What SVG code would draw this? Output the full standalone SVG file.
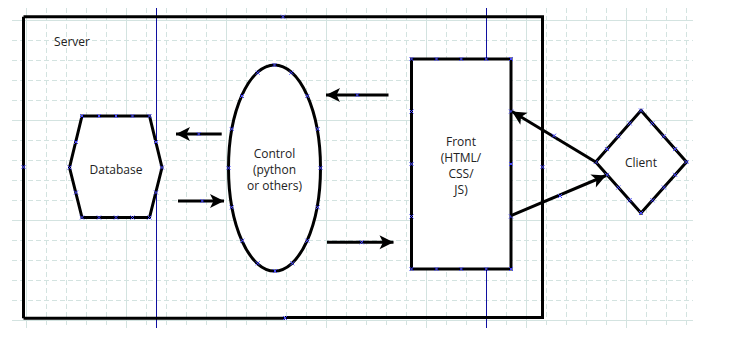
<svg xmlns="http://www.w3.org/2000/svg" xmlns:xlink="http://www.w3.org/1999/xlink" width="738" height="348" viewBox="0 0 738 348">
  <defs>
    <style>
      .grid-minor { stroke: #d3e3e0; stroke-width: 1; stroke-dasharray: 5 3; fill: none; }
      .grid-major { stroke: #d3e3e0; stroke-width: 1; fill: none; }
      .guide { stroke: #1010a0; stroke-width: 1; fill: none; }
      .shape { fill: #ffffff; stroke: #000000; stroke-width: 3; }
      .frame { fill: none; stroke: #000000; stroke-width: 3; }
      .conn { stroke: #000000; stroke-width: 3; fill: none; marker-end: url(#head); }
      .label { font-family: "Open Sans", "Noto Sans", "DejaVu Sans", sans-serif; font-size: 12px; fill: #222222; text-anchor: middle; }
      .pt { stroke: #4848ff; stroke-width: 1; fill: none; }
    </style>
    <marker id="head" markerUnits="userSpaceOnUse" markerWidth="17" markerHeight="16" refX="15" refY="7.5" orient="auto" viewBox="0 0 17 15">
      <path d="M15,7.5 L1,0.5 L4.5,7.5 L1,14.5 Z" fill="#000000"/>
    </marker>
    <path id="x" class="pt" d="M-2,-2 L2,2 M-2,2 L2,-2"/>
  </defs>

  <rect width="738" height="348" fill="#ffffff"/>

  <!-- background grid -->
  <g id="grid">
    <path class="grid-minor" d="M12,40.5 H693 M12,60.5 H693 M12,80.5 H693 M12,100.5 H693 M12,140.5 H693 M12,160.5 H693 M12,180.5 H693 M12,200.5 H693 M12,240.5 H693 M12,260.5 H693 M12,280.5 H693 M12,300.5 H693"/>
    <path class="grid-minor" d="M46.5,8 V328 M66.5,8 V328 M86.5,8 V328 M106.5,8 V328 M146.5,8 V328 M166.5,8 V328 M186.5,8 V328 M206.5,8 V328 M246.5,8 V328 M266.5,8 V328 M286.5,8 V328 M306.5,8 V328 M346.5,8 V328 M366.5,8 V328 M386.5,8 V328 M406.5,8 V328 M446.5,8 V328 M466.5,8 V328 M486.5,8 V328 M506.5,8 V328 M546.5,8 V328 M566.5,8 V328 M586.5,8 V328 M606.5,8 V328 M646.5,8 V328 M666.5,8 V328 M686.5,8 V328"/>
    <path class="grid-major" d="M12,20.5 H693 M12,120.5 H693 M12,220.5 H693 M12,320.5 H693 M26.5,8 V328 M126.5,8 V328 M226.5,8 V328 M326.5,8 V328 M426.5,8 V328 M526.5,8 V328 M626.5,8 V328"/>
    <path class="guide" d="M156.5,8 V328 M486.5,8 V328"/>
  </g>

  <!-- server boundary -->
  <g id="server">
    <path class="frame" d="M23.5,16.7 H542.5 V317.5 H285 M285,318.3 H23.5 Z"/>
    <path class="frame" d="M23.5,16.7 V318.3"/>
    <text class="label" x="72" y="46">Server</text>
    <use xlink:href="#x" x="283" y="16.7"/>
    <use xlink:href="#x" x="542.5" y="167"/>
    <use xlink:href="#x" x="285" y="318"/>
    <use xlink:href="#x" x="23.5" y="167"/>
  </g>

  <!-- database -->
  <g id="database">
    <polygon class="shape" points="82,116 149.5,116 162,167.5 149.5,217.5 82,217.5 69.5,167.5"/>
    <text class="label" x="116" y="174">Database</text>
    <use xlink:href="#x" x="82" y="116"/><use xlink:href="#x" x="99" y="116"/><use xlink:href="#x" x="116" y="116"/><use xlink:href="#x" x="132.5" y="116"/><use xlink:href="#x" x="149.5" y="116"/>
    <use xlink:href="#x" x="82" y="217.5"/><use xlink:href="#x" x="99" y="217.5"/><use xlink:href="#x" x="116" y="217.5"/><use xlink:href="#x" x="132.5" y="217.5"/><use xlink:href="#x" x="149.5" y="217.5"/>
    <use xlink:href="#x" x="69.5" y="167.5"/><use xlink:href="#x" x="76" y="142"/><use xlink:href="#x" x="76" y="192.5"/>
    <use xlink:href="#x" x="162" y="167.5"/><use xlink:href="#x" x="156" y="142"/><use xlink:href="#x" x="156" y="192.5"/>
  </g>

  <!-- control -->
  <g id="control">
    <ellipse class="shape" cx="274.5" cy="168" rx="46" ry="103"/>
    <text class="label" x="274.5" y="158">Control</text>
    <text class="label" x="274.5" y="174">(python</text>
    <text class="label" x="274.5" y="190">or others)</text>
    <use xlink:href="#x" x="274.5" y="65"/><use xlink:href="#x" x="257.7" y="72.7"/><use xlink:href="#x" x="291.3" y="72.7"/>
    <use xlink:href="#x" x="242" y="96"/><use xlink:href="#x" x="307.3" y="96"/>
    <use xlink:href="#x" x="231.7" y="129"/><use xlink:href="#x" x="317.7" y="129"/>
    <use xlink:href="#x" x="228.5" y="168"/><use xlink:href="#x" x="320.5" y="168"/>
    <use xlink:href="#x" x="231.7" y="207.3"/><use xlink:href="#x" x="317.7" y="207.3"/>
    <use xlink:href="#x" x="242.3" y="240.7"/><use xlink:href="#x" x="307.3" y="240.7"/>
    <use xlink:href="#x" x="257.7" y="263.3"/><use xlink:href="#x" x="292.3" y="263.3"/>
    <use xlink:href="#x" x="275" y="271"/>
  </g>

  <!-- front -->
  <g id="front">
    <rect class="shape" x="411.5" y="59" width="99.5" height="210"/>
    <text class="label" x="461" y="145.5">Front</text>
    <text class="label" x="461" y="161.5">(HTML/</text>
    <text class="label" x="461" y="177.5">CSS/</text>
    <text class="label" x="461" y="193.5">JS)</text>
    <use xlink:href="#x" x="411.5" y="59"/><use xlink:href="#x" x="436.5" y="59"/><use xlink:href="#x" x="461.3" y="59"/><use xlink:href="#x" x="486.3" y="59"/><use xlink:href="#x" x="511" y="59"/>
    <use xlink:href="#x" x="411.5" y="269"/><use xlink:href="#x" x="436.5" y="269"/><use xlink:href="#x" x="461.3" y="269"/><use xlink:href="#x" x="486.3" y="269"/><use xlink:href="#x" x="511" y="269"/>
    <use xlink:href="#x" x="411.5" y="111.5"/><use xlink:href="#x" x="411.5" y="164"/><use xlink:href="#x" x="411.5" y="216.5"/>
    <use xlink:href="#x" x="511" y="111.5"/><use xlink:href="#x" x="511" y="164"/><use xlink:href="#x" x="511" y="216.5"/>
  </g>

  <!-- client -->
  <g id="client">
    <polygon class="shape" points="641,110.5 686.5,162 641,213 595.7,162"/>
    <text class="label" x="641" y="167">Client</text>
    <use xlink:href="#x" x="641" y="110.5"/><use xlink:href="#x" x="652.4" y="123.4"/><use xlink:href="#x" x="663.8" y="136.3"/><use xlink:href="#x" x="675.1" y="149.1"/>
    <use xlink:href="#x" x="686.5" y="162"/><use xlink:href="#x" x="675.1" y="174.8"/><use xlink:href="#x" x="663.8" y="187.5"/><use xlink:href="#x" x="652.4" y="200.3"/>
    <use xlink:href="#x" x="641" y="213"/><use xlink:href="#x" x="629.7" y="200.3"/><use xlink:href="#x" x="618.4" y="187.5"/><use xlink:href="#x" x="607" y="174.8"/>
    <use xlink:href="#x" x="595.7" y="162"/><use xlink:href="#x" x="607" y="149.1"/><use xlink:href="#x" x="618.4" y="136.3"/><use xlink:href="#x" x="629.7" y="123.4"/>
  </g>

  <!-- connectors -->
  <g id="connectors">
    <line class="conn" x1="388.5" y1="95" x2="326" y2="95"/>
    <line class="conn" x1="221.7" y1="134" x2="176" y2="134"/>
    <line class="conn" x1="178" y1="201" x2="224" y2="201"/>
    <line class="conn" x1="327" y1="242.3" x2="393.5" y2="242.3"/>
    <line class="conn" x1="595.7" y1="162" x2="512" y2="111.5"/>
    <line class="conn" x1="511" y1="215.7" x2="606" y2="175.5"/>
    <use xlink:href="#x" x="357.3" y="95"/>
    <use xlink:href="#x" x="198.7" y="134"/>
    <use xlink:href="#x" x="202.3" y="201"/>
    <use xlink:href="#x" x="361.7" y="242.3"/>
    <use xlink:href="#x" x="554" y="135.7"/>
    <use xlink:href="#x" x="560" y="196"/>
  </g>
</svg>
